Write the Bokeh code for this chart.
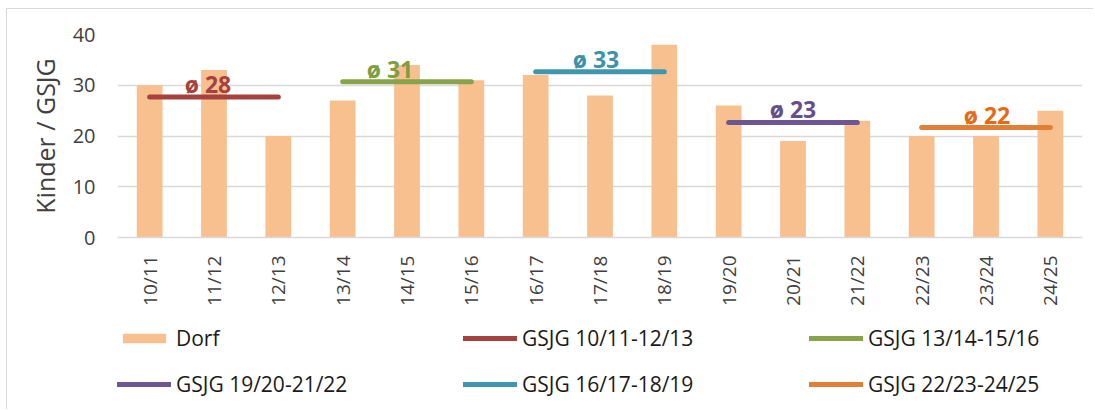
from bokeh.plotting import figure
from bokeh.layouts import column
from bokeh.models import ColumnDataSource, Range1d, Legend, LegendItem, FactorRange
from bokeh.core.properties import value
from bokeh.embed import file_html
from bokeh.resources import INLINE
import math

# ---- data ----
seasons = ["10/11", "11/12", "12/13", "13/14", "14/15", "15/16", "16/17", "17/18",
           "18/19", "19/20", "20/21", "21/22", "22/23", "23/24", "24/25"]
dorf = [30, 33, 20, 27, 34, 31, 32, 28, 38, 26, 19, 23, 20, 20, 25]
group_labels = ["GSJG 10/11-12/13", "GSJG 13/14-15/16", "GSJG 16/17-18/19",
                "GSJG 19/20-21/22", "GSJG 22/23-24/25"]
group_start = [0, 3, 6, 9, 12]
y_ticks = [0, 10, 20, 30, 40]

# ---- styles ----
bar_color = "#F8BF8F"
line_colors = ["#A5423E", "#87A44B", "#4096AE", "#6E5692", "#E07F35"]
text_colors = ["#A5423E", "#7F9E40", "#3B92AA", "#654E8C", "#E46C12"]
label_dx = [-6, -17, -4, 0, 1]
FONT = "Open Sans"

p = figure(x_range=FactorRange(factors=seasons, range_padding=0),
           y_range=Range1d(0, 40),
           width=1086, height=305, output_backend="svg", toolbar_location=None,
           min_border_left=110, min_border_right=11, min_border_top=25,
           min_border_bottom=77)
p.outline_line_color = None
p.background_fill_color = "white"
p.border_fill_color = "white"

src = ColumnDataSource(dict(x=seasons, y=dorf))
p.vbar(x="x", top="y", width=0.4, source=src, fill_color=bar_color, line_color=None)

averages = []
for i, (lab, s) in enumerate(zip(group_labels, group_start)):
    vals = dorf[s:s + 3]
    avg = sum(vals) / len(vals)
    averages.append(avg)
    p.line(x=[seasons[s], seasons[s + 2]], y=[avg, avg], line_width=5,
           line_color=line_colors[i], line_cap="round")
    p.text(x=[seasons[s + 1]], y=[avg], text=[f"ø {round(avg)}"],
           text_color=text_colors[i], text_font=value(FONT),
           text_font_size="23px", text_font_style="bold",
           text_align="center", text_baseline="middle",
           x_offset=label_dx[i], y_offset=-13)

# axes
p.yaxis.ticker = y_ticks
p.yaxis.axis_line_color = None
p.yaxis.major_tick_line_color = None
p.yaxis.minor_tick_line_color = None
p.yaxis.major_tick_out = 0
p.yaxis.major_label_standoff = 22
p.yaxis.major_label_text_font = FONT
p.yaxis.major_label_text_font_size = "20px"
p.yaxis.major_label_text_color = "#404040"
p.yaxis.axis_label = "Kinder / GSJG"
p.yaxis.axis_label_text_font = FONT
p.yaxis.axis_label_text_font_size = "25px"
p.yaxis.axis_label_text_font_style = "normal"
p.yaxis.axis_label_text_color = "#404040"
p.yaxis.axis_label_standoff = 8

p.xaxis.axis_line_color = "#D9D9D9"
p.xaxis.axis_line_width = 1.5
p.xaxis.major_tick_line_color = None
p.xaxis.minor_tick_line_color = None
p.xaxis.major_tick_out = 0
p.xaxis.major_label_orientation = math.pi / 2
p.xaxis.major_label_standoff = 18
p.xaxis.major_label_text_font = FONT
p.xaxis.major_label_text_font_size = "19px"
p.xaxis.major_label_text_color = "#404040"

p.xgrid.grid_line_color = None
p.ygrid.grid_line_color = "#D9D9D9"
p.ygrid.grid_line_width = 1.5

# ---- legend panel (second figure; its y-range sits above the data, so the
# proxy renderers are out of view and only serve the legend) ----
lp = figure(width=1086, height=95, output_backend="svg", toolbar_location=None,
            x_range=FactorRange(factors=seasons, range_padding=0),
            y_range=Range1d(100, 101),
            x_axis_location=None, y_axis_location=None, min_border=0)
lp.outline_line_color = None
lp.grid.grid_line_color = None
lp.background_fill_color = "white"
lp.border_fill_color = "white"

leg_bar = lp.vbar(x="x", top="y", width=0.4, source=src, fill_color=bar_color,
                  line_color=None)
leg_lines = []
for i, s in enumerate(group_start):
    leg_lines.append(lp.line(x=[seasons[s], seasons[s + 2]],
                             y=[averages[i], averages[i]], line_width=5,
                             line_color=line_colors[i], line_cap="round"))

legend_cols = [
    [("Dorf", leg_bar), (group_labels[3], leg_lines[3])],
    [(group_labels[0], leg_lines[0]), (group_labels[2], leg_lines[2])],
    [(group_labels[1], leg_lines[1]), (group_labels[4], leg_lines[4])],
]
col_x = [0, 346, 692]
for cx, items in zip(col_x, legend_cols):
    leg = Legend(items=[LegendItem(label=l, renderers=[r]) for l, r in items],
                 location=(cx, 11), orientation="vertical",
                 glyph_width=54, glyph_height=12, label_height=24,
                 label_standoff=5, spacing=18, padding=0, margin=0,
                 border_line_color=None, background_fill_alpha=0,
                 label_text_font=FONT, label_text_font_size="21px",
                 label_text_color="#1A1A1A")
    lp.add_layout(leg, "center")

layout = column(p, lp, spacing=0, margin=(8, 0, 0, 6))
layout.styles = {"border-top": "1px solid #D9D9D9", "border-left": "1px solid #D9D9D9"}

open("out.html", "w").write(file_html(layout, INLINE))
